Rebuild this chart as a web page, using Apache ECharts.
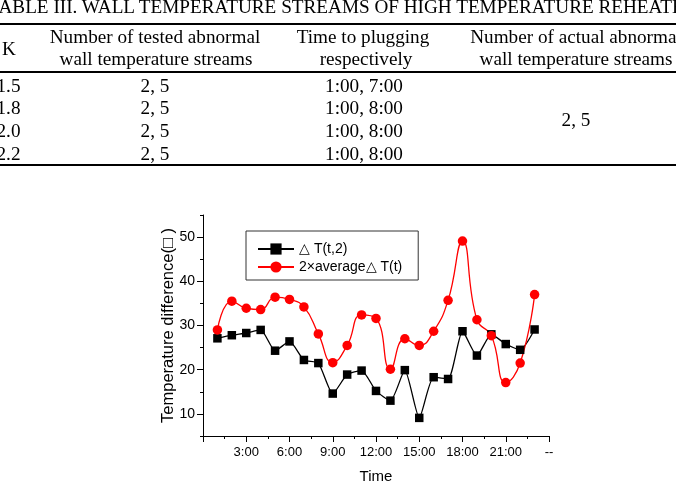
<!DOCTYPE html>
<html lang="en">
<head>
    <meta charset="UTF-8">
    <title>Wall temperature streams</title>
    <script src="https://cdn.jsdelivr.net/npm/echarts/dist/echarts.min.js"></script>
</head>
<style>
    body{margin: 0;width: 676px;height: 496px;overflow: hidden;background: #fff;position: relative}
    #main{position: absolute;left: 0;top: 0;width: 676px;height: 496px}
    .tb{position: absolute;font-family: 'Liberation Serif','Times New Roman',serif;color: #000;white-space: nowrap;line-height: 1}
    .c{width: 400px;text-align: center}
    .rule{position: absolute;left: 0;width: 676px;background: #000}
</style>
<body>
    <div id="main"></div>
    <div id="table"></div>
</body>
<script type="text/javascript">
    // table data
    var tableTitle = 'TABLE III. WALL TEMPERATURE STREAMS OF HIGH TEMPERATURE REHEATER';
    var headK = 'K';
    var headTested = ['Number of tested abnormal', 'wall temperature streams'];
    var headTime = ['Time to plugging', 'respectively'];
    var headActual = ['Number of actual abnormal', 'wall temperature streams'];
    var kValues = ['1.5', '1.8', '2.0', '2.2'];
    var testedStreams = ['2, 5', '2, 5', '2, 5', '2, 5'];
    var pluggingTimes = ['1:00, 7:00', '1:00, 8:00', '1:00, 8:00', '1:00, 8:00'];
    var actualStreams = '2, 5';

    // chart data
    var hours = [1,2,3,4,5,6,7,8,9,10,11,12,13,14,15,16,17,18,19,20,21,22,23];
    var dT2 = [27.1,27.8,28.3,29.0,24.3,26.4,22.2,21.5,14.6,18.9,19.8,15.2,13.0,19.9,9.1,18.3,17.9,28.7,23.2,28.0,25.8,24.5,29.1];
    var avgDT = [29.0,35.5,33.9,33.6,36.4,35.9,34.2,28.1,21.6,25.5,32.4,31.6,20.1,27.0,25.5,28.7,35.7,49.1,31.3,27.7,17.1,21.5,37.0];
    var xTickLabels = {3:'3:00',6:'6:00',9:'9:00',12:'12:00',15:'15:00',18:'18:00',21:'21:00',24:'--'};
    var seriesNames = ['\u25B3 T(t,2)', '2\u00D7average\u25B3 T(t)'];

    /* table, drawn as text */
    var fs = 19.2;
    var html = '';
    function put(txt, cx, base, cls, size) {
        size = size || fs;
        var top = base - 0.8375 * size;
        if (cls === 'c') {
            html += '<div class="tb c" style="left:' + (cx - 200) + 'px;top:' + top + 'px;font-size:' + size + 'px">' + txt + '</div>';
        } else {
            html += '<div class="tb" style="left:' + cx + 'px;top:' + top + 'px;font-size:' + size + 'px">' + txt + '</div>';
        }
    }
    put(tableTitle, -11.7, 13, '', 19.2);
    html += '<div class="rule" style="top:23px;height:2px"></div>';
    html += '<div class="rule" style="top:71px;height:1.5px"></div>';
    html += '<div class="rule" style="top:164px;height:2px"></div>';
    put(headK, 9, 55, 'c');
    put(headTested[0], 155, 43.3, 'c');
    put(headTested[1], 156, 65, 'c');
    put(headTime[0], 363, 43.3, 'c');
    put(headTime[1], 366, 65, 'c');
    put(headActual[0], 576, 43.3, 'c');
    put(headActual[1], 576, 65, 'c');
    var rowBase = [91.7, 114.3, 137.3, 160];
    for (var i = 0; i < kValues.length; i++) {
        put(kValues[i], 8.5, rowBase[i], 'c');
        put(testedStreams[i], 155, rowBase[i], 'c');
        put(pluggingTimes[i], 364, rowBase[i], 'c');
    }
    put(actualStreams, 576, 126, 'c');
    document.getElementById('table').innerHTML = html;

    /* chart */
    var font = "'Liberation Sans', Arial, sans-serif";
    var myChart = echarts.init(document.getElementById('main'));
    var lineData1 = [], lineData2 = [];
    for (var j = 0; j < hours.length; j++) {
        lineData1.push([hours[j], dT2[j]]);
        lineData2.push([hours[j], avgDT[j]]);
    }
    var axisLine = {show: true, lineStyle: {color: '#000', width: 1}};
    var option = {
        animation: false,
        backgroundColor: '#fff',
        grid: {left: 203, right: 127, top: 215, bottom: 60},
        legend: {
            orient: 'vertical',
            left: 246,
            top: 231,
            padding: [11, 16, 6, 11],
            itemGap: 4,
            itemWidth: 36,
            itemHeight: 14,
            borderColor: '#333',
            borderWidth: 1,
            textStyle: {fontFamily: font, fontSize: 14, color: '#000'},
            data: seriesNames
        },
        xAxis: [{
            type: 'value', min: 0, max: 24, interval: 1.5, position: 'bottom',
            axisLine: axisLine,
            axisTick: {length: 3, lineStyle: {color: '#000'}},
            axisLabel: {show: false},
            splitLine: {show: false}
        }, {
            type: 'value', min: 0, max: 24, interval: 3, position: 'bottom',
            axisLine: axisLine,
            axisTick: {length: 6, lineStyle: {color: '#000'}},
            axisLabel: {
                margin: 10, fontFamily: font, fontSize: 13, color: '#000',
                formatter: function (v) { return xTickLabels[v] || ''; }
            },
            splitLine: {show: false},
            name: 'Time', nameLocation: 'middle', nameGap: 33, nameMoveOverlap: false,
            nameTextStyle: {fontFamily: font, fontSize: 15, color: '#000'}
        }],
        yAxis: [{
            type: 'value', min: 5, max: 55, interval: 5,
            axisLine: axisLine,
            axisTick: {length: 3, lineStyle: {color: '#000'}},
            axisLabel: {show: false},
            splitLine: {show: false}
        }, {
            type: 'value', min: 5, max: 55, position: 'left',
            axisLine: {show: false},
            axisTick: {length: 6, lineStyle: {color: '#000'}},
            axisLabel: {
                margin: 8, fontFamily: font, fontSize: 14, color: '#000',
                showMinLabel: false, showMaxLabel: false
            },
            splitLine: {show: false},
            name: 'Temperature difference(\u25A1 )', nameLocation: 'middle', nameGap: 26, nameMoveOverlap: false,
            nameTextStyle: {fontFamily: font, fontSize: 16.5, color: '#000'}
        }],
        series: [{
            name: seriesNames[0],
            type: 'line',
            data: lineData1,
            smooth: 0.2,
            symbol: 'rect',
            symbolSize: 8.5,
            lineStyle: {color: '#000', width: 1.3},
            itemStyle: {color: '#000'}
        }, {
            name: seriesNames[1],
            type: 'line',
            data: lineData2,
            smooth: 0.5,
            symbol: 'circle',
            symbolSize: 9.5,
            lineStyle: {color: '#f00', width: 1.3},
            itemStyle: {color: '#f00'}
        }]
    };
    myChart.setOption(option);
</script>
</html>
